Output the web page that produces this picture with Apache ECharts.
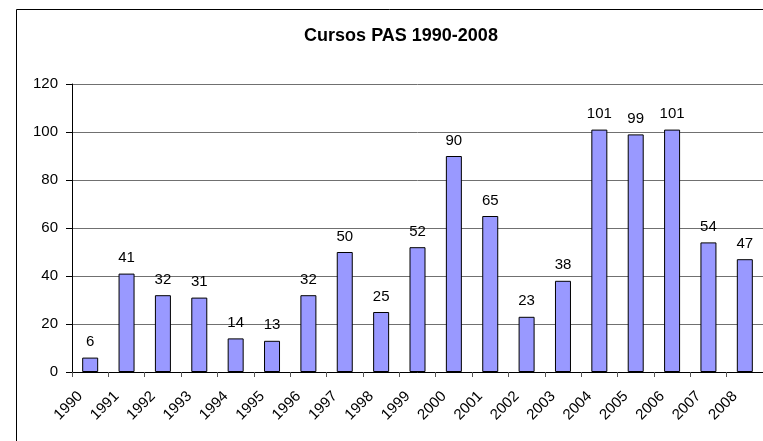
<!DOCTYPE html>
<html>
<head>
    <meta charset="utf-8">
    <title>Cursos PAS</title>
    <script src="https://cdn.jsdelivr.net/npm/echarts@6/dist/echarts.min.js"></script>
    <style>
        body { margin: 0; background: #fff; }
    </style>
</head>
<body>
    <div id="main" style="width: 763px; height: 441px;"></div>
    <script type="text/javascript">
    var years = ['1990', '1991', '1992', '1993', '1994', '1995', '1996', '1997', '1998', '1999',
                 '2000', '2001', '2002', '2003', '2004', '2005', '2006', '2007', '2008'];
    var cursos = [6, 41, 32, 31, 14, 13, 32, 50, 25, 52, 90, 65, 23, 38, 101, 99, 101, 54, 47];

    var font = 'Liberation Sans, Arial, sans-serif';
    var myChart = echarts.init(document.getElementById('main'));
    var option = {
        backgroundColor: '#fff',
        animation: false,
        title: {
            text: 'Cursos PAS 1990-2008',
            left: 396,
            top: 22,
            textAlign: 'center',
            textStyle: { fontFamily: font, fontSize: 18, fontWeight: 'bold', color: '#000' }
        },
        // chart area border, only left and top are inside the picture
        graphic: [{
            type: 'polyline',
            shape: { points: [[16.5, 441], [16.5, 9.5], [763, 9.5]] },
            style: { fill: null, stroke: '#000', lineWidth: 1 },
            silent: true
        }],
        grid: {
            left: 72,
            right: 0,
            top: 84,
            bottom: 69
        },
        xAxis: {
            type: 'category',
            data: years,
            axisLine: { lineStyle: { color: '#000', width: 1 } },
            axisTick: { show: true, length: 5, lineStyle: { color: '#555' } },
            axisLabel: {
                rotate: 45,
                margin: 12,
                interval: 0,
                padding: [0, 14, 0, 0],
                color: '#000',
                fontFamily: font,
                fontSize: 15
            }
        },
        yAxis: {
            type: 'value',
            min: 0,
            max: 120,
            interval: 20,
            axisLine: { show: true, lineStyle: { color: '#000', width: 1 } },
            axisTick: { show: true, length: 6, lineStyle: { color: '#000' } },
            splitLine: { lineStyle: { color: '#707070', width: 1 } },
            axisLabel: {
                margin: 14,
                color: '#000',
                fontFamily: font,
                fontSize: 15
            }
        },
        series: [{
            name: 'Cursos',
            type: 'bar',
            data: cursos,
            barWidth: 16,
            itemStyle: { color: '#9999ff', borderColor: '#000', borderWidth: 1 },
            label: {
                show: true,
                position: 'top',
                distance: 8,
                color: '#000',
                fontFamily: font,
                fontSize: 15
            }
        }]
    };
    myChart.setOption(option);
    </script>
</body>
</html>
